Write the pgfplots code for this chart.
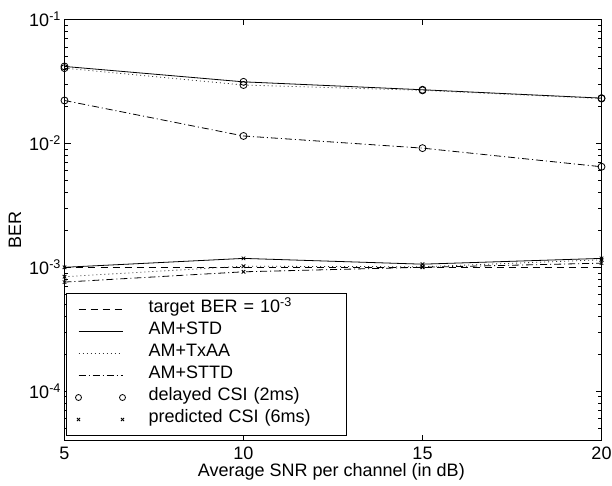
\documentclass[border=0pt]{standalone}
\usepackage{fontspec}
\setmainfont{Liberation Sans}
\usepackage{pgfplots}
\pgfplotsset{compat=1.18}
\newcommand{\fs}{\fontsize{18}{21.6}\selectfont}
\pgfplotsset{
  myline/.style={legend image code/.code={\path[draw=none,fill=none] (-12pt,0pt) -- (70pt,0pt); \draw[##1] (0pt,0pt) -- (44pt,0pt);}},
  mymarks/.style={legend image code/.code={\path[draw=none,fill=none] (-12pt,0pt) -- (70pt,0pt); \draw[##1, only marks] plot coordinates {(0pt,0pt) (44pt,0pt)};}},
}
\begin{document}
\begin{tikzpicture}
\useasboundingbox (-64.5pt,-44.5pt) rectangle (547.5pt,440.5pt);
\begin{axis}[
  at={(0pt,0pt)}, anchor=south west,
  scale only axis, width=537pt, height=421pt,
  ymode=log, xmin=5, xmax=20, ymin=4e-5, ymax=1e-1,
  xtick={5,10,15,20}, xticklabels={5,10,15,20},
  ytick={1e-4,1e-3,1e-2,1e-1},
  yticklabels={10\textsuperscript{-4},10\textsuperscript{-3},10\textsuperscript{-2},10\textsuperscript{-1}},
  minor ytick={4e-5,5e-5,6e-5,7e-5,8e-5,9e-5,2e-4,3e-4,4e-4,5e-4,6e-4,7e-4,8e-4,9e-4,2e-3,3e-3,4e-3,5e-3,6e-3,7e-3,8e-3,9e-3,2e-2,3e-2,4e-2,5e-2,6e-2,7e-2,8e-2,9e-2},
  tick align=inside,
  major tick length=6pt, minor tick length=3.5pt,
  every tick/.style={black, line width=0.8pt},
  axis line style={line width=1.1pt},
  tick label style={font=\fs},
  xticklabel style={inner ysep=1pt, yshift=-5pt},
  xlabel={Average SNR per channel (in dB)},
  ylabel={BER},
  every axis x label/.style={at={(axis description cs:0.497,-0.0748)}, anchor=center, font=\fs, inner sep=1pt},
  every axis y label/.style={at={(axis description cs:-0.0922,0.5)}, rotate=90, anchor=center, font=\fs},
  legend style={at={(axis description cs:0.0028,0.0107)}, anchor=south west,
    draw=black, line width=1pt, font=\fs, inner xsep=0pt, inner ysep=5pt,
    row sep=0pt, cells={anchor=west},
    nodes={inner sep=0pt, text height=14pt, text depth=8pt, text width=198pt, align=left}},
]
% target
\addplot[black, line width=0.8pt, dash pattern=on 7pt off 5pt, forget plot] coordinates {(5,1e-3) (10,1e-3) (15,1e-3) (20,1e-3)};
% delayed CSI
\addplot[black, line width=0.8pt, mark=o, mark size=3.5pt, mark options={solid}, forget plot] coordinates {(5,0.0418) (10,0.0314) (15,0.0271) (20,0.0232)};
\addplot[black!80, line width=0.8pt, dash pattern=on 1pt off 3pt, mark=o, mark size=3.5pt, mark options={solid,black}, forget plot] coordinates {(5,0.0405) (10,0.0296) (15,0.0268) (20,0.0230)};
\addplot[black, line width=0.8pt, dash pattern=on 7pt off 3pt on 1pt off 3pt, mark=o, mark size=3.5pt, mark options={solid}, forget plot] coordinates {(5,0.0222) (10,0.01148) (15,0.00916) (20,0.00648)};
% predicted CSI
\addplot[black, line width=0.8pt, mark=x, mark size=2.5pt, mark options={solid}, forget plot] coordinates {(5,0.00100) (10,0.00118) (15,0.00106) (20,0.00118)};
\addplot[black!80, line width=0.8pt, dash pattern=on 1pt off 3pt, mark=x, mark size=2.5pt, mark options={solid,black}, forget plot] coordinates {(5,0.00084) (10,0.00102) (15,0.00101) (20,0.00115)};
\addplot[black, line width=0.8pt, dash pattern=on 7pt off 3pt on 1pt off 3pt, mark=x, mark size=2.5pt, mark options={solid}, forget plot] coordinates {(5,0.00076) (10,0.00092) (15,0.00100) (20,0.00108)};
% legend
\addlegendimage{myline, black, line width=0.8pt, dash pattern=on 7pt off 5pt}
\addlegendentry{target BER = 10\textsuperscript{-3}}
\addlegendimage{myline, black, line width=0.8pt}
\addlegendentry{AM+STD}
\addlegendimage{myline, black!80, line width=0.8pt, dash pattern=on 1pt off 3pt}
\addlegendentry{AM+TxAA}
\addlegendimage{myline, black, line width=0.8pt, dash pattern=on 7pt off 3pt on 1pt off 3pt}
\addlegendentry{AM+STTD}
\addlegendimage{mymarks, black, line width=0.8pt, mark=o, mark size=3pt}
\addlegendentry{delayed CSI (2ms)}
\addlegendimage{mymarks, black, line width=0.8pt, mark=x, mark size=2.2pt}
\addlegendentry{predicted CSI (6ms)}
\end{axis}
\end{tikzpicture}
\end{document}
